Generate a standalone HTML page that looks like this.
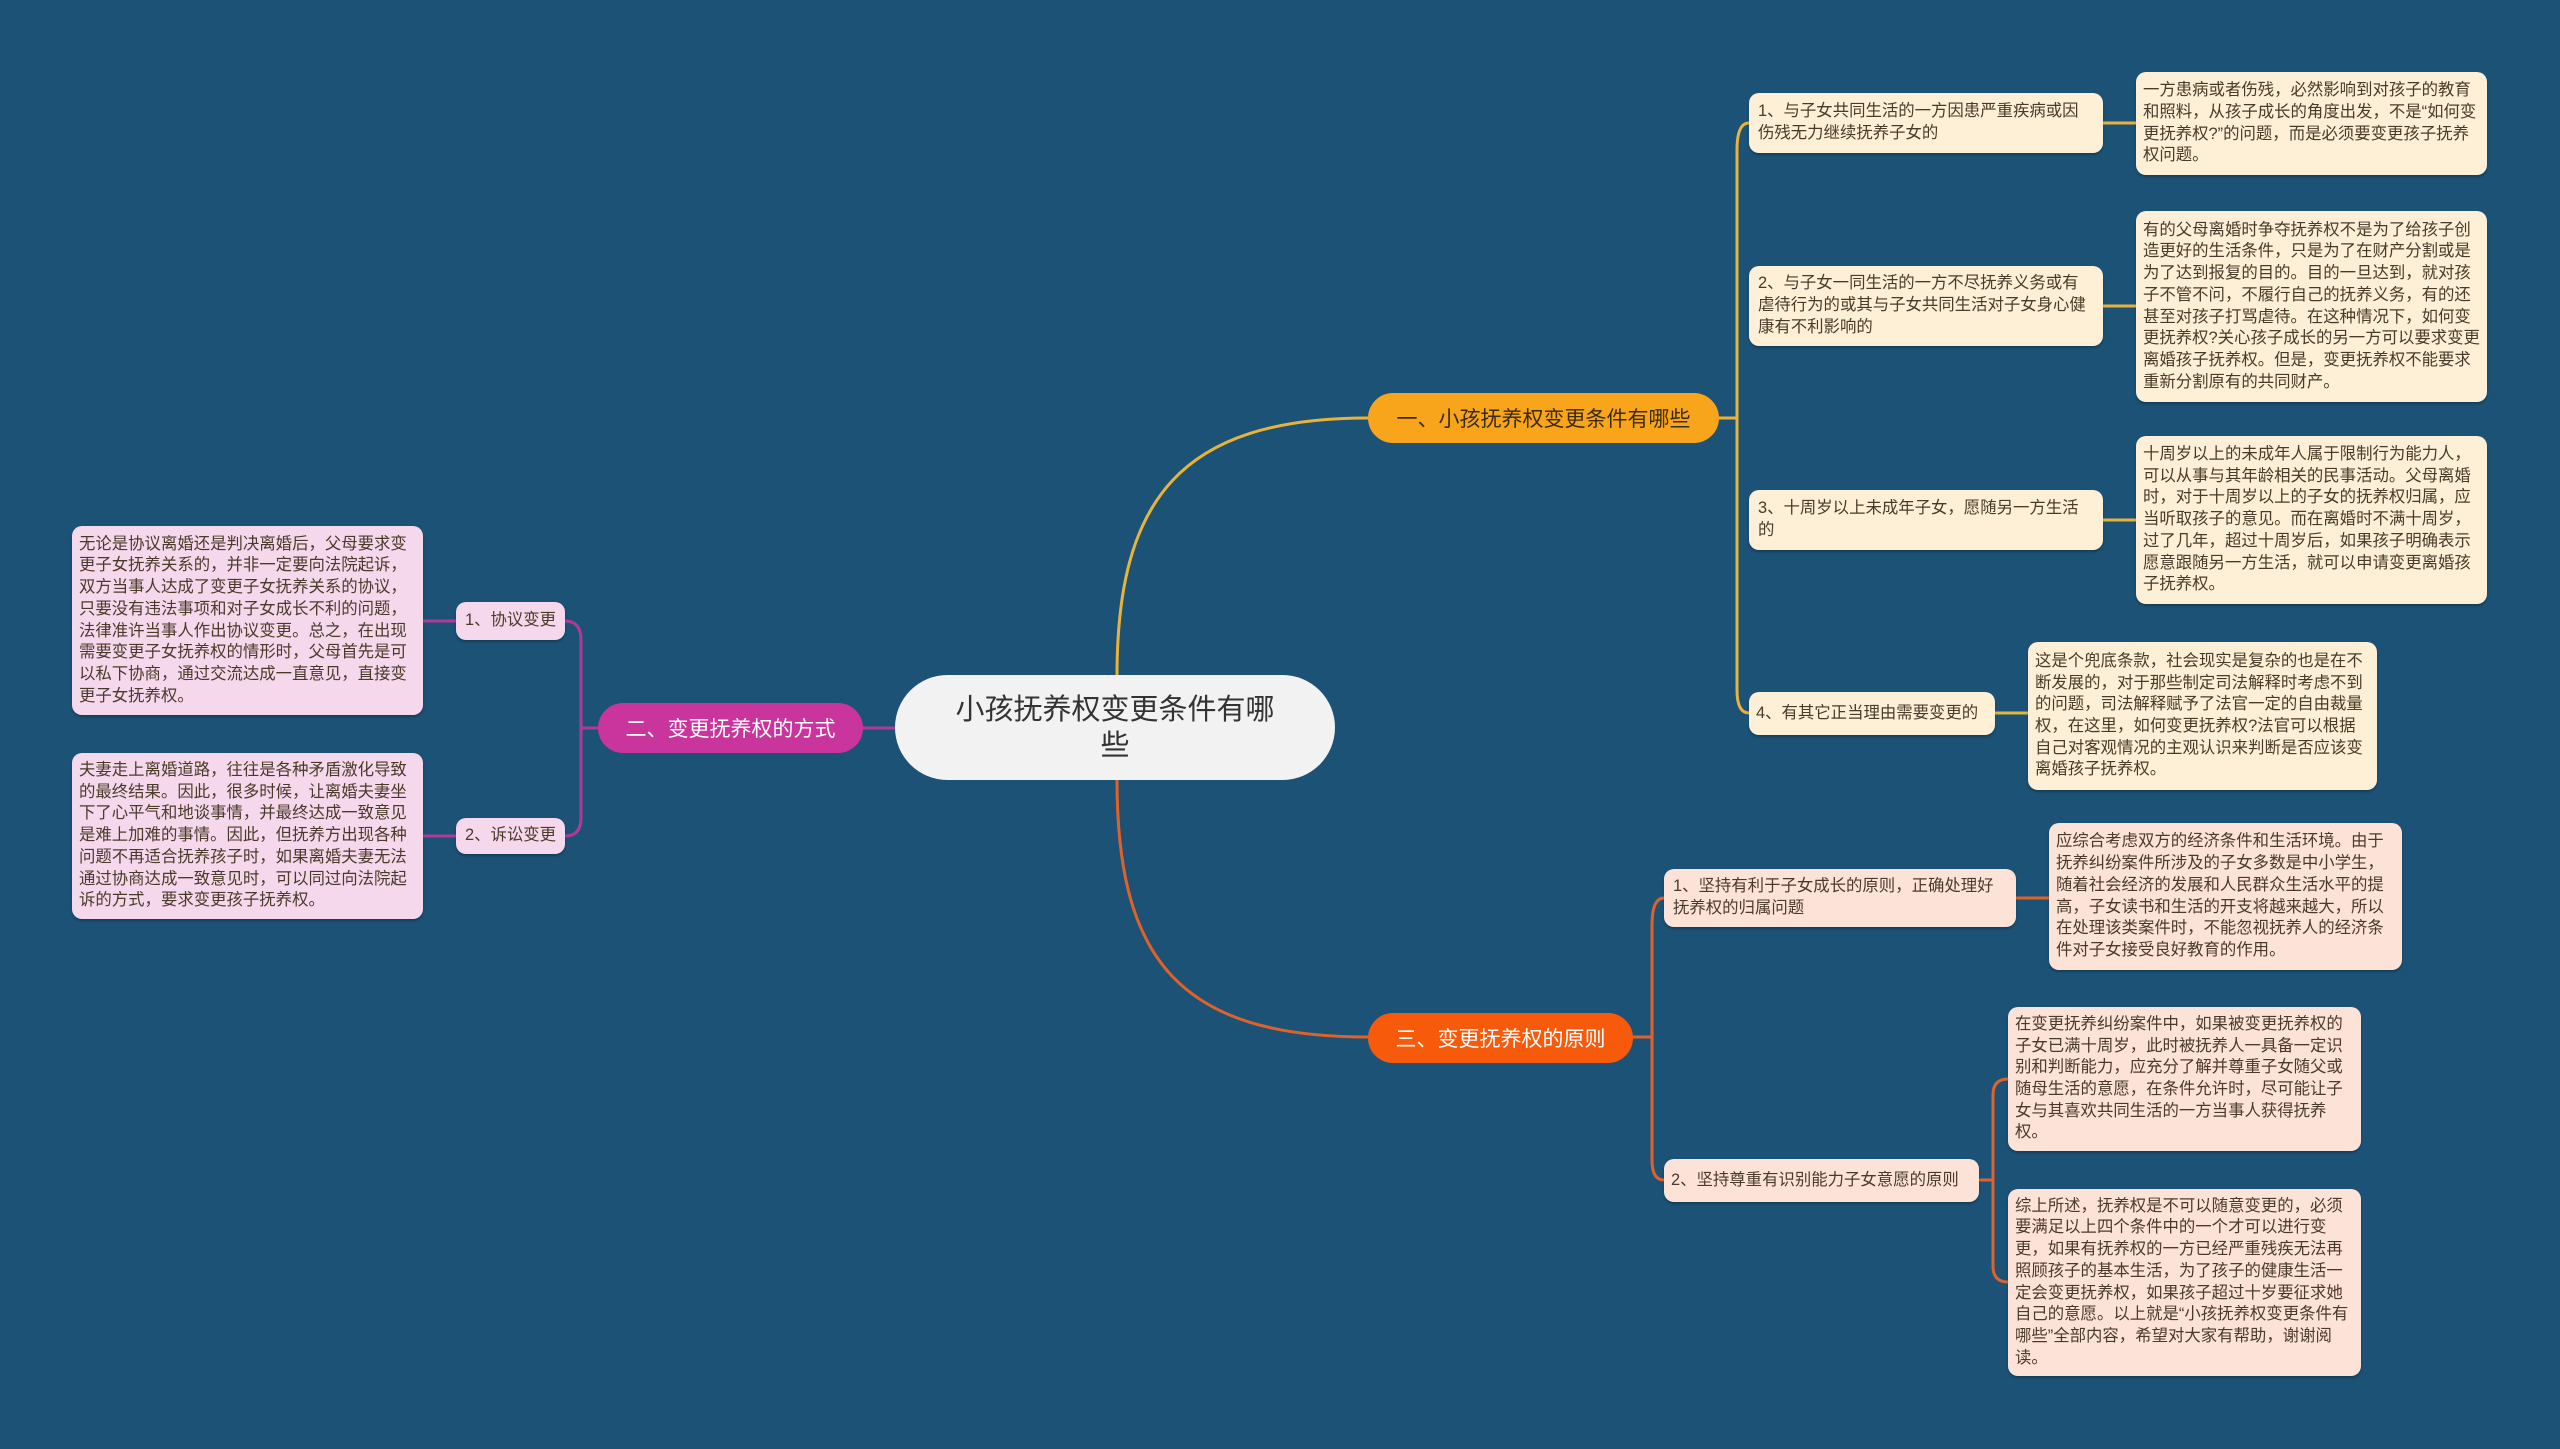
<!DOCTYPE html>
<html><head><meta charset="utf-8"><style>
html,body{margin:0;padding:0}
body{width:2560px;height:1449px;background:#1b5276;position:relative;overflow:hidden;font-family:"Liberation Sans","Noto Sans CJK SC",sans-serif}
.n{position:absolute;box-sizing:border-box;border-radius:10px;font-size:16.4px;line-height:21.7px;color:#4a3a2a;padding:6px 7px;display:flex;align-items:center;box-shadow:0 2px 2px rgba(0,0,0,.25)}
.s{padding:6px 14px 6px 9px}
.y{background:#fdf0d6}
.p{background:#fde3d7}
.m{background:#f6d8ec}
.nw{white-space:nowrap}
.b{position:absolute;box-sizing:border-box;border-radius:26px;font-size:21px;display:flex;align-items:center;justify-content:center}
svg{position:absolute;left:0;top:0}
</style></head><body>
<svg width="2560" height="1449" fill="none" stroke-width="3">
<path d="M1117 676 C1117 500 1180 418 1368 418" stroke="#e8b33a"/>
<path d="M1117 780 C1117 960 1180 1037 1368 1037" stroke="#e0622a"/>
<path d="M896 728 H862" stroke="#b03a9a"/>
<path d="M1718 418 H1737" stroke="#e8b33a"/>
<path d="M1749 123 Q1737 123 1737 150 V690 Q1737 713 1749 713" stroke="#e8b33a"/>
<path d="M2103 123 H2136 M2103 306 H2136 M2103 520 H2136 M1995 713 H2028" stroke="#e8b33a"/>
<path d="M1633 1037 H1652" stroke="#e0622a"/>
<path d="M1664 898 Q1652 898 1652 925 V1160 Q1652 1180 1664 1180" stroke="#e0622a"/>
<path d="M2016 898 H2049 M1979 1180 H1993" stroke="#e0622a"/>
<path d="M2008 1079 Q1993 1079 1993 1095 V1266 Q1993 1282 2008 1282" stroke="#e0622a"/>
<path d="M598 728 H581" stroke="#b03a9a"/>
<path d="M565 621 Q581 621 581 640 V818 Q581 836 565 836" stroke="#b03a9a"/>
<path d="M456 621 H423 M456 836 H423" stroke="#b03a9a"/>
</svg>

<div class="b" style="left:895px;top:675px;width:440px;height:105px;border-radius:53px;background:#f2f2f2;color:#333;font-size:29px;line-height:36px;text-align:center;padding:0 60px">小孩抚养权变更条件有哪些</div>
<div class="b" style="left:1368px;top:393px;width:351px;height:50px;background:#f9a51c;color:#3a2a10">一、小孩抚养权变更条件有哪些</div>
<div class="b" style="left:598px;top:703px;width:265px;height:50px;background:#c9359c;color:#fff">二、变更抚养权的方式</div>
<div class="b" style="left:1368px;top:1013px;width:265px;height:50px;background:#f85a0c;color:#fff">三、变更抚养权的原则</div>

<div class="n y s" style="left:1749px;top:93px;width:354px;height:60px">1、与子女共同生活的一方因患严重疾病或因伤残无力继续抚养子女的</div>
<div class="n y s" style="left:1749px;top:266px;width:354px;height:80px">2、与子女一同生活的一方不尽抚养义务或有虐待行为的或其与子女共同生活对子女身心健康有不利影响的</div>
<div class="n y s" style="left:1749px;top:490px;width:354px;height:60px">3、十周岁以上未成年子女，愿随另一方生活的</div>
<div class="n y nw" style="left:1749px;top:692px;width:246px;height:43px">4、有其它正当理由需要变更的</div>

<div class="n y" style="left:2136px;top:72px;width:351px;height:103px">一方患病或者伤残，必然影响到对孩子的教育和照料，从孩子成长的角度出发，不是“如何变更抚养权?”的问题，而是必须要变更孩子抚养权问题。</div>
<div class="n y" style="left:2136px;top:211px;width:351px;height:191px">有的父母离婚时争夺抚养权不是为了给孩子创造更好的生活条件，只是为了在财产分割或是为了达到报复的目的。目的一旦达到，就对孩子不管不问，不履行自己的抚养义务，有的还甚至对孩子打骂虐待。在这种情况下，如何变更抚养权?关心孩子成长的另一方可以要求变更离婚孩子抚养权。但是，变更抚养权不能要求重新分割原有的共同财产。</div>
<div class="n y" style="left:2136px;top:436px;width:351px;height:168px">十周岁以上的未成年人属于限制行为能力人，可以从事与其年龄相关的民事活动。父母离婚时，对于十周岁以上的子女的抚养权归属，应当听取孩子的意见。而在离婚时不满十周岁，过了几年，超过十周岁后，如果孩子明确表示愿意跟随另一方生活，就可以申请变更离婚孩子抚养权。</div>
<div class="n y" style="left:2028px;top:642px;width:349px;height:148px">这是个兜底条款，社会现实是复杂的也是在不断发展的，对于那些制定司法解释时考虑不到的问题，司法解释赋予了法官一定的自由裁量权，在这里，如何变更抚养权?法官可以根据自己对客观情况的主观认识来判断是否应该变离婚孩子抚养权。</div>

<div class="n p s" style="left:1664px;top:869px;width:352px;height:58px">1、坚持有利于子女成长的原则，正确处理好抚养权的归属问题</div>
<div class="n p nw" style="left:1664px;top:1159px;width:315px;height:43px">2、坚持尊重有识别能力子女意愿的原则</div>
<div class="n p" style="left:2049px;top:823px;width:353px;height:147px">应综合考虑双方的经济条件和生活环境。由于抚养纠纷案件所涉及的子女多数是中小学生，随着社会经济的发展和人民群众生活水平的提高，子女读书和生活的开支将越来越大，所以在处理该类案件时，不能忽视抚养人的经济条件对子女接受良好教育的作用。</div>
<div class="n p" style="left:2008px;top:1007px;width:353px;height:144px">在变更抚养纠纷案件中，如果被变更抚养权的子女已满十周岁，此时被抚养人一具备一定识别和判断能力，应充分了解并尊重子女随父或随母生活的意愿，在条件允许时，尽可能让子女与其喜欢共同生活的一方当事人获得抚养权。</div>
<div class="n p" style="left:2008px;top:1189px;width:353px;height:187px">综上所述，抚养权是不可以随意变更的，必须要满足以上四个条件中的一个才可以进行变更，如果有抚养权的一方已经严重残疾无法再照顾孩子的基本生活，为了孩子的健康生活一定会变更抚养权，如果孩子超过十岁要征求她自己的意愿。以上就是“小孩抚养权变更条件有哪些”全部内容，希望对大家有帮助，谢谢阅读。</div>

<div class="n m nw" style="left:456px;top:602px;width:109px;height:38px;justify-content:center;padding:0">1、协议变更</div>
<div class="n m nw" style="left:456px;top:818px;width:109px;height:36px;justify-content:center;padding:0">2、诉讼变更</div>
<div class="n m" style="left:72px;top:526px;width:351px;height:189px">无论是协议离婚还是判决离婚后，父母要求变更子女抚养关系的，并非一定要向法院起诉，双方当事人达成了变更子女抚养关系的协议，只要没有违法事项和对子女成长不利的问题，法律准许当事人作出协议变更。总之，在出现需要变更子女抚养权的情形时，父母首先是可以私下协商，通过交流达成一直意见，直接变更子女抚养权。</div>
<div class="n m" style="left:72px;top:753px;width:351px;height:166px">夫妻走上离婚道路，往往是各种矛盾激化导致的最终结果。因此，很多时候，让离婚夫妻坐下了心平气和地谈事情，并最终达成一致意见是难上加难的事情。因此，但抚养方出现各种问题不再适合抚养孩子时，如果离婚夫妻无法通过协商达成一致意见时，可以同过向法院起诉的方式，要求变更孩子抚养权。</div>
</body></html>
